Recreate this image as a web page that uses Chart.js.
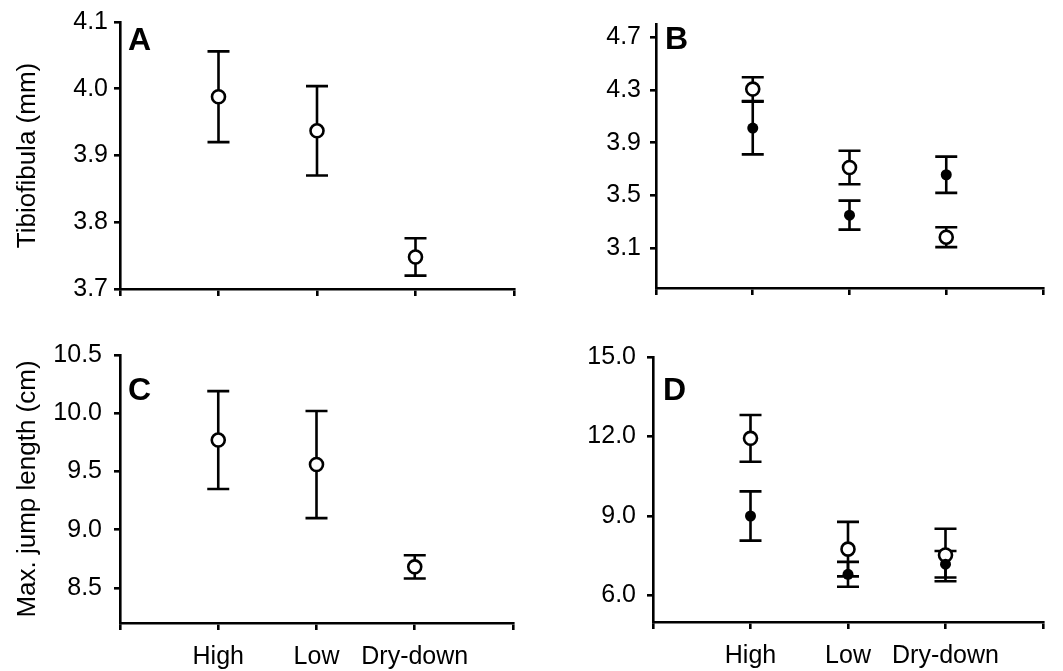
<!DOCTYPE html>
<html>
<head>
<meta charset="utf-8">
<script src="https://cdn.jsdelivr.net/npm/chart.js@4/dist/chart.umd.min.js"></script>
<style>
    body { margin: 0; background: #fff; }
    #wrap { position: relative; width: 1063px; height: 671px; overflow: hidden; }
    .panel { position: absolute; }
</style>
</head>
<body>
<div id="wrap">
    <div class="panel" style="left:0px;top:0px;"><canvas id="canvasA" width="530" height="320"></canvas></div>
    <div class="panel" style="left:530px;top:0px;"><canvas id="canvasB" width="533" height="320"></canvas></div>
    <div class="panel" style="left:0px;top:320px;"><canvas id="canvasC" width="530" height="351"></canvas></div>
    <div class="panel" style="left:530px;top:320px;"><canvas id="canvasD" width="533" height="351"></canvas></div>
</div>
<script>
// カテゴリ
const categories = ['High', 'Low', 'Dry-down'];

// A: Tibiofibula (mm)
const tibioMean = [3.988, 3.937, 3.748];
const tibioErr = [0.068, 0.067, 0.028];
const tibioTicks = [3.7, 3.8, 3.9, 4.0, 4.1];

// B: 白丸と黒丸の2系列
const tibioOpenMean = [4.307, 3.713, 3.185];
const tibioOpenErr = [0.090, 0.127, 0.075];
const tibioFilledMean = [4.012, 3.352, 3.658];
const tibioFilledErr = [0.200, 0.110, 0.137];
const tibioTicksB = [3.1, 3.5, 3.9, 4.3, 4.7];

// C: Max. jump length (cm)
const jumpMean = [9.770, 9.560, 8.682];
const jumpErr = [0.420, 0.460, 0.100];
const jumpTicks = [8.5, 9.0, 9.5, 10.0, 10.5];

// D: 白丸と黒丸の2系列
const jumpOpenMean = [11.93, 7.75, 7.53];
const jumpOpenErr = [0.88, 1.03, 0.99];
const jumpFilledMean = [9.00, 6.80, 7.18];
const jumpFilledErr = [0.93, 0.47, 0.50];
const jumpTicksD = [6.0, 9.0, 12.0, 15.0];

const xTicks = [0, 1, 2, 3, 4];

Chart.defaults.font.family = '"Liberation Sans", Arial, sans-serif';
Chart.defaults.color = '#000';

// エラーバーを描くプラグイン
const errorBarPlugin = {
    id: 'errorBars',
    beforeDatasetsDraw(chart) {
        const ctx = chart.ctx;
        const xs = chart.scales.x;
        const ys = chart.scales.y;
        const cap = 11;
        ctx.save();
        ctx.strokeStyle = '#000';
        ctx.lineWidth = 2.6;
        chart.data.datasets.forEach(ds => {
            ds.data.forEach((p, i) => {
                const e = ds.errors[i];
                const px = xs.getPixelForValue(p.x);
                const top = ys.getPixelForValue(p.y + e);
                const bot = ys.getPixelForValue(p.y - e);
                ctx.beginPath();
                ctx.moveTo(px, top);
                ctx.lineTo(px, bot);
                ctx.moveTo(px - cap, top);
                ctx.lineTo(px + cap, top);
                ctx.moveTo(px - cap, bot);
                ctx.lineTo(px + cap, bot);
                ctx.stroke();
            });
        });
        ctx.restore();
    }
};

// パネル文字 (A, B, C, D)
const letterPlugin = {
    id: 'panelLetter',
    afterDraw(chart) {
        const opt = chart.options.plugins.panelLetter;
        const area = chart.chartArea;
        const ctx = chart.ctx;
        ctx.save();
        ctx.font = 'bold 32px "Liberation Sans", Arial, sans-serif';
        ctx.fillStyle = '#000';
        ctx.textBaseline = 'alphabetic';
        ctx.fillText(opt.text, area.left + opt.dx, area.top + opt.dy);
        ctx.restore();
    }
};

function toPoints(means) {
    return means.map((m, i) => ({x: i + 1, y: m}));
}

function openSeries(means, errs) {
    return {
        data: toPoints(means),
        errors: errs,
        pointRadius: 6.5,
        pointBorderWidth: 2.6,
        pointBackgroundColor: '#fff',
        pointBorderColor: '#000',
        showLine: false
    };
}

function filledSeries(means, errs) {
    return {
        data: toPoints(means),
        errors: errs,
        pointRadius: 5.5,
        pointBorderWidth: 0,
        pointBackgroundColor: '#000',
        pointBorderColor: '#000',
        showLine: false
    };
}

function makeChart(id, cfg) {
    const ctx = document.getElementById(id).getContext('2d');
    return new Chart(ctx, {
        type: 'scatter',
        data: { datasets: cfg.datasets },
        options: {
            responsive: false,
            animation: false,
            layout: { padding: { top: cfg.padTop, right: cfg.padRight, left: 0, bottom: 0 } },
            plugins: {
                legend: { display: false },
                tooltip: { enabled: false },
                panelLetter: cfg.letter
            },
            scales: {
                x: {
                    type: 'linear',
                    min: 0,
                    max: 4,
                    afterBuildTicks: s => { s.ticks = xTicks.map(v => ({value: v})); },
                    afterFit: s => { s.height = cfg.xHeight; },
                    grid: { drawOnChartArea: false, drawTicks: true, tickLength: 7, color: '#000', lineWidth: 2.6 },
                    border: { display: true, color: '#000', width: 2.6 },
                    ticks: {
                        autoSkip: false,
                        maxRotation: 0,
                        padding: 12,
                        font: { size: 25 },
                        callback: v => cfg.showLabels ? (categories[v - 1] || '') : ''
                    }
                },
                y: {
                    type: 'linear',
                    min: cfg.yMin,
                    max: cfg.yMax,
                    afterBuildTicks: s => { s.ticks = cfg.yTicks.map(v => ({value: v})); },
                    afterFit: s => { s.width = cfg.yWidth; },
                    grid: { drawOnChartArea: false, drawTicks: true, tickLength: 6, color: '#000', lineWidth: 2.6 },
                    border: { display: true, color: '#000', width: 2.6 },
                    ticks: {
                        padding: cfg.yPad,
                        font: { size: 25 },
                        callback: v => v.toFixed(1)
                    },
                    title: {
                        display: !!cfg.yTitle,
                        text: cfg.yTitle || '',
                        font: { size: 26 },
                        color: '#000',
                        padding: { top: 12, bottom: 0 }
                    }
                }
            }
        },
        plugins: [errorBarPlugin, letterPlugin]
    });
}

makeChart('canvasA', {
    datasets: [openSeries(tibioMean, tibioErr)],
    yMin: 3.7, yMax: 4.1, yTicks: tibioTicks,
    yTitle: 'Tibiofibula (mm)',
    padTop: 22, padRight: 16, yWidth: 120, xHeight: 31, yPad: 6,
    showLabels: false,
    letter: { text: 'A', dx: 8, dy: 28 }
});

makeChart('canvasB', {
    datasets: [filledSeries(tibioFilledMean, tibioFilledErr), openSeries(tibioOpenMean, tibioOpenErr)],
    yMin: 2.8, yMax: 4.8, yTicks: tibioTicksB,
    padTop: 22, padRight: 20, yWidth: 126, xHeight: 32, yPad: 9,
    showLabels: false,
    letter: { text: 'B', dx: 9, dy: 25 }
});

makeChart('canvasC', {
    datasets: [openSeries(jumpMean, jumpErr)],
    yMin: 8.2, yMax: 10.5, yTicks: jumpTicks,
    yTitle: 'Max. jump length (cm)',
    padTop: 35, padRight: 17, yWidth: 120, xHeight: 48, yPad: 12,
    showLabels: true,
    letter: { text: 'C', dx: 8, dy: 45 }
});

makeChart('canvasD', {
    datasets: [filledSeries(jumpFilledMean, jumpFilledErr), openSeries(jumpOpenMean, jumpOpenErr)],
    yMin: 5.0, yMax: 15.0, yTicks: jumpTicksD,
    padTop: 37, padRight: 20, yWidth: 123, xHeight: 49, yPad: 11,
    showLabels: true,
    letter: { text: 'D', dx: 10, dy: 43 }
});
</script>
</body>
</html>
